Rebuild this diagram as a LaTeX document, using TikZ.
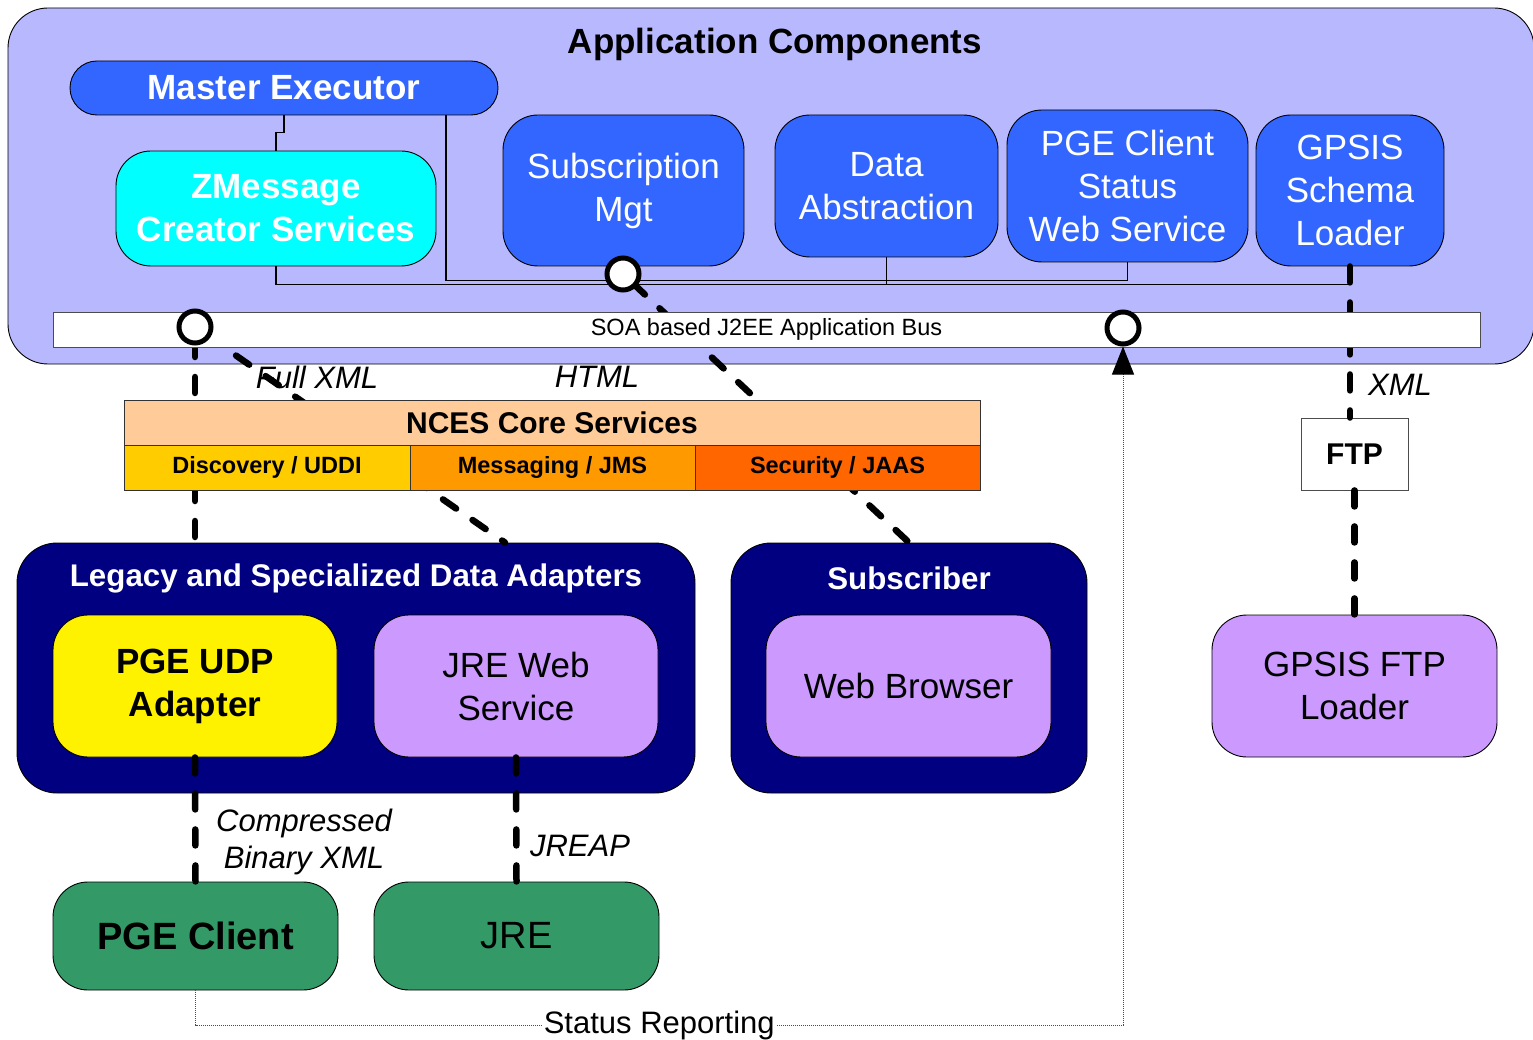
\documentclass[tikz,border=0pt]{standalone}
\usepackage{fontspec}
\setmainfont{Liberation Sans}
\usetikzlibrary{arrows.meta,calc}
\definecolor{appbg}{HTML}{B8B8FF}
\definecolor{compblue}{HTML}{3366FF}
\definecolor{zcyan}{HTML}{00FFFF}
\definecolor{navybox}{HTML}{000080}
\definecolor{lilac}{HTML}{CC99FF}
\definecolor{sgreen}{HTML}{339966}
\definecolor{ncespeach}{HTML}{FFCC99}
\definecolor{discgold}{HTML}{FFCC00}
\definecolor{msgorange}{HTML}{FF9900}
\definecolor{secorange}{HTML}{FF6600}
\tikzset{
  box/.style={draw=black, line width=0.9pt, inner sep=0pt, align=center},
  comp/.style={box, rounded corners=35pt, fill=compblue, text=white,
    font=\fontsize{35}{43}\selectfont},
  group/.style={box, rounded corners=40pt, fill=navybox},
  grouptitle/.style={text=white, font=\bfseries\fontsize{31.3}{37}\selectfont},
  endbox/.style={box, rounded corners=35pt, font=\fontsize{35}{43}\selectfont},
  cell/.style={draw=black!80, line width=0.9pt, inner sep=0pt,
    font=\bfseries\fontsize{23.5}{28}\selectfont},
  tag/.style={font=\itshape\fontsize{31}{37}\selectfont, align=center, inner sep=0pt},
  wire/.style={draw=black, line width=1.1pt},
  link/.style={draw=black, line width=6.5pt, line cap=round, dash pattern=on 16pt off 20pt},
  portlink/.style={link, dash phase=22pt},
  port/.style={circle, draw=black, line width=5pt, fill=white, minimum size=32pt, inner sep=0pt},
  status/.style={draw=black!70, line width=1pt, densely dotted},
}
\begin{document}
\begin{tikzpicture}[x=1pt,y=-1pt]
\useasboundingbox (0,0) rectangle (1533,1040);

% application component container
\node[box, rounded corners=40pt, fill=appbg, minimum width=1526pt, minimum height=356pt] (app) at (771,186) {};
\node[font=\bfseries\fontsize{35}{43}\selectfont] (apptitle) at (775,44) {Application Components};

% components
\node[comp, font=\bfseries\fontsize{35}{43}\selectfont, rounded corners=27pt,
  minimum width=428pt, minimum height=54pt] (me) at (284,88) {Master Executor};
\node[comp, fill=zcyan, font=\bfseries\fontsize{35}{43}\selectfont,
  minimum width=320pt, minimum height=115pt] (zmsg) at (276,208.5) {ZMessage\\Creator Services};
\node[comp, minimum width=241pt, minimum height=151pt] (sub) at (623.5,190.5) {Subscription\\Mgt};
\node[comp, minimum width=223pt, minimum height=142pt] (da) at (886.5,186) {Data\\Abstraction};
\node[comp, minimum width=241pt, minimum height=152pt] (pges) at (1127.5,186) {PGE Client\\Status\\Web Service};
\node[comp, minimum width=188pt, minimum height=151pt] (gsl) at (1350,190.5) {GPSIS\\Schema\\Loader};

% internal wiring between components
\draw[wire] (me.south) -- ++(0,17) -| (zmsg.north);
\draw[wire] ($(me.south)+(162,0)$) |- ($(pges.south)+(0,18)$) -- (pges.south);
\draw[wire] (zmsg.south) |- ($(gsl.south)+(0,18)$) -- (gsl.south);
\draw[wire] (da.south) -- ($(da.south)+(0,27)$);

% adapter groups
\node[group, minimum width=678pt, minimum height=250pt] (legacy) at (356,668) {};
\node[grouptitle] (legacytitle) at (356,578) {Legacy and Specialized Data Adapters};
\node[endbox, fill=yellow, font=\bfseries\fontsize{35}{43}\selectfont,
  minimum width=284pt, minimum height=142pt] (pgeudp) at (195,686) {PGE UDP\\Adapter};
\node[endbox, fill=lilac, minimum width=284pt, minimum height=142pt] (jrews) at (516,686) {JRE Web\\Service};

\node[group, minimum width=356pt, minimum height=250pt] (subscr) at (909,668) {};
\node[grouptitle] (subscrtitle) at (909,578) {Subscriber};
\node[endbox, fill=lilac, minimum width=285pt, minimum height=142pt] (web) at (908.5,686) {Web Browser};

% FTP path
\node[box, draw=black!70, fill=white, font=\bfseries\fontsize{30}{36}\selectfont,
  minimum width=107pt, minimum height=72pt] (ftp) at (1354.5,454) {FTP};
\node[endbox, fill=lilac, minimum width=285pt, minimum height=142pt] (gfl) at (1354.5,686) {GPSIS FTP\\Loader};

% clients
\node[endbox, fill=sgreen, font=\bfseries\fontsize{38}{45}\selectfont,
  minimum width=285pt, minimum height=108pt] (pgec) at (195.5,936) {PGE Client};
\node[endbox, fill=sgreen, font=\fontsize{38}{45}\selectfont,
  minimum width=285pt, minimum height=108pt] (jre) at (516.5,936) {JRE};

% interface points
\coordinate (c1) at (195,327);
\coordinate (c2) at (623,274);
\coordinate (c3) at (1123,328);

% protocol links
\draw[link] (gsl.south) -- (gsl.south |- ftp.north);
\draw[link] (ftp.south) -- (gfl.north);
\draw[portlink] (c1) -- (c1 |- legacy.north);
\draw[portlink] (c1) -- ($(legacy.north)+(149,0)$);
\draw[portlink] (c2) -- (subscr.north);
\draw[link] (pgeudp.south) -- (pgec.north);
\draw[link] (jrews.south) -- (jre.north);

% application bus
\node[box, draw=black!70, fill=white, font=\fontsize{23.5}{28}\selectfont,
  minimum width=1427pt, minimum height=35pt] (bus) at (766.5,329.5) {SOA based J2EE Application Bus};

% core services
\node[cell, fill=ncespeach, font=\bfseries\fontsize{30}{36}\selectfont,
  minimum width=856pt, minimum height=45pt] (nces) at (552,422.5) {NCES Core Services};
\node[cell, fill=discgold, minimum width=286pt, minimum height=45pt] (disc) at (267,467.5) {Discovery / UDDI};
\node[cell, fill=msgorange, minimum width=285pt, minimum height=45pt] (msg) at (552.5,467.5) {Messaging / JMS};
\node[cell, fill=secorange, minimum width=285pt, minimum height=45pt] (sec) at (837.5,467.5) {Security / JAAS};

% ports
\node[port] (p1) at (c1) {};
\node[port] (p2) at (c2) {};
\node[port] (p3) at (c3) {};

% link labels
\node[tag] (fullxml) at (317,377) {Full XML};
\node[tag] (html) at (597,377) {HTML};
\node[tag] (xml) at (1400,385) {XML};
\node[tag] (cbx) at (304,842) {Compressed\\Binary XML};
\node[tag] (jreap) at (580,846) {JREAP};

% status reporting
\coordinate (sr) at (1123,1025);
\draw[status, -{Triangle[length=28pt,width=22pt,color=black,fill=black]}] (pgec.south) |-
  node[pos=0.75, fill=white, text=black, font=\fontsize{31}{37}\selectfont, inner sep=2pt] (srlabel) {Status Reporting}
  (sr) -- (p3.south);
\end{tikzpicture}
\end{document}
